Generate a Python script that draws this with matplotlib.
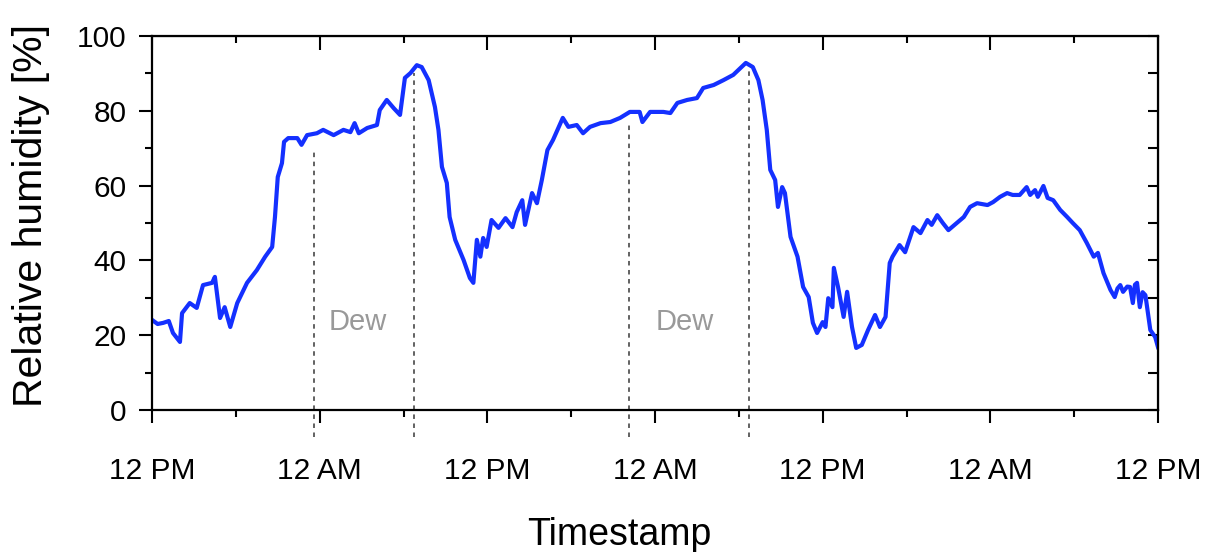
import matplotlib
matplotlib.use("Agg")
import matplotlib.pyplot as plt
from matplotlib.ticker import MultipleLocator
import numpy as np

# hours since the first 12 PM, relative humidity in %
hours = [0.0, 0.4, 0.8, 1.2, 1.5, 2.0, 2.15, 2.7, 3.2, 3.65, 4.3, 4.5, 4.87, 5.2, 5.6,
         6.1, 6.8, 7.5, 8.1, 8.6, 8.8, 9.0, 9.3, 9.45, 9.75, 10.4, 10.7, 11.1,
         11.8, 12.25, 13.0, 13.7, 14.2, 14.5, 14.8, 15.4, 16.1, 16.3, 16.8, 17.3,
         17.75, 18.1, 18.5, 18.95, 19.3, 19.8, 20.25, 20.5, 20.75, 21.1, 21.3,
         21.7, 22.3, 22.75, 23.0, 23.25, 23.5, 23.7, 23.95, 24.3, 24.8, 25.3,
         25.8, 26.1, 26.5, 26.7, 27.2, 27.55, 27.9, 28.3, 28.7, 29.4, 29.8, 30.4,
         30.85, 31.35, 32.1, 32.8, 33.5, 34.2, 34.9, 35.1, 35.65, 36.6, 37.1,
         37.6, 38.3, 39.0, 39.45, 40.2, 40.9, 41.6, 42.1, 42.5, 43.0, 43.4, 43.7,
         44.0, 44.25, 44.6, 44.8, 45.1, 45.3, 45.7, 46.2, 46.6, 47.0, 47.3, 47.6,
         48.0, 48.2, 48.4, 48.7, 48.8, 49.1, 49.5, 49.75, 50.1, 50.4, 50.8, 51.25,
         51.75, 52.1, 52.5, 52.8, 53.0, 53.5, 53.9, 54.5, 55.0, 55.5, 55.8, 56.2,
         56.6, 57.0, 57.6, 58.1, 58.55, 59.05, 59.8, 60.2, 60.7, 61.2, 61.6, 62.1,
         62.6, 62.85, 63.2, 63.4, 63.8, 64.1, 64.5, 65.0, 65.5, 65.9, 66.4, 66.9,
         67.4, 67.7, 68.1, 68.6, 68.9, 69.1, 69.3, 69.5, 69.8, 70.0, 70.2, 70.35,
         70.5, 70.7, 70.9, 71.1, 71.45, 71.8, 72.0]
humidity = [24.1, 23.0, 23.3, 23.8, 20.6, 18.2, 25.9, 28.6, 27.3, 33.4, 34.0, 35.6, 24.6,
            27.5, 22.2, 28.6, 34.0, 37.4, 41.0, 43.6, 51.6, 62.3, 66.0, 71.7, 72.7,
            72.7, 70.9, 73.5, 74.0, 74.9, 73.5, 74.9, 74.3, 76.7, 74.0, 75.4, 76.2,
            80.2, 82.9, 80.7, 78.9, 88.8, 90.1, 92.2, 91.7, 88.2, 81.0, 74.9, 65.0,
            60.7, 51.6, 45.5, 40.1, 35.3, 34.0, 45.5, 41.0, 46.0, 43.6, 50.8, 48.7,
            51.3, 48.9, 52.9, 56.1, 49.5, 58.0, 55.3, 61.5, 69.5, 72.2, 78.1, 75.7,
            76.2, 74.0, 75.7, 76.7, 77.0, 78.1, 79.7, 79.7, 77.0, 79.7, 79.7, 79.4,
            82.1, 82.9, 83.4, 86.1, 86.9, 88.2, 89.6, 91.4, 92.8, 91.7, 88.2, 82.9,
            74.9, 64.2, 61.5, 54.3, 59.6, 58.0, 46.3, 41.0, 32.9, 30.2, 23.3, 20.6,
            23.5, 22.2, 29.9, 27.5, 38.0, 32.9, 24.9, 31.6, 22.2, 16.6, 17.4, 21.4,
            25.4, 22.2, 24.9, 39.3, 41.0, 44.1, 42.2, 48.9, 47.3, 50.8, 49.5, 52.1,
            50.0, 48.1, 50.0, 51.6, 54.3, 55.3, 54.8, 55.6, 57.0, 58.0, 57.5, 57.5,
            59.6, 57.5, 58.8, 57.0, 59.9, 56.7, 56.1, 53.5, 51.6, 50.0, 48.1, 44.7,
            41.0, 42.0, 36.6, 32.1, 30.2, 32.5, 33.4, 31.6, 33.0, 32.9, 28.6, 33.5,
            34.0, 27.5, 31.5, 30.7, 21.4, 19.5, 16.8]

# dew onset / end markers (hour, humidity where the dashed line stops)
dew_hours = [11.6, 18.75, 34.15, 42.7]
dew_tops = [69, 90, 76.5, 91.5]
dew_labels_x = [14.75, 38.15]
dew_label_y = 23.5

tick_hours = [0, 12, 24, 36, 48, 60, 72]
tick_names = ["12 PM", "12 AM", "12 PM", "12 AM", "12 PM", "12 AM", "12 PM"]

plt.rcParams["font.family"] = ["Liberation Sans", "DejaVu Sans"]

fig = plt.figure(figsize=(12.21, 5.52), dpi=100)
ax = fig.add_axes([0.1245, 0.2572, 0.8239, 0.6776])

ax.plot(hours, humidity, color="#1430ff", lw=3.0, solid_joinstyle="round")

for h, top in zip(dew_hours, dew_tops):
    ax.plot([h, h], [-7.2, top], color="#555555", lw=1.3, ls=(0, (2.5, 2.5)),
            clip_on=False, zorder=1)
for x in dew_labels_x:
    ax.text(x, dew_label_y, "Dew", color="#999999", fontsize=21,
            ha="center", va="center")

ax.set_xlim(0, 72)
ax.set_ylim(0, 100)
ax.set_xticks(tick_hours)
ax.set_xticklabels(tick_names, fontsize=21.5)
ax.xaxis.set_minor_locator(MultipleLocator(6))
ax.set_yticks(range(0, 101, 20))
ax.set_yticklabels([str(v) for v in range(0, 101, 20)], fontsize=21.5)
ax.yaxis.set_minor_locator(MultipleLocator(10))

for s in ax.spines.values():
    s.set_linewidth(1.6)
ax.tick_params(which="major", direction="out", length=9.5, width=1.5)
ax.tick_params(which="minor", direction="out", length=5, width=1.5)
ax.tick_params(axis="x", which="major", pad=24)
ax.tick_params(axis="y", which="major", pad=9)

# inward ticks on top and right
top = ax.secondary_xaxis("top")
top.set_xticks(tick_hours)
top.xaxis.set_minor_locator(MultipleLocator(6))
top.tick_params(which="major", direction="in", length=10, width=1.5, labeltop=False)
top.tick_params(which="minor", direction="in", length=5, width=1.5)
right = ax.secondary_yaxis("right")
right.set_yticks(range(0, 101, 20))
right.yaxis.set_minor_locator(MultipleLocator(10))
right.tick_params(which="both", direction="in", length=7, width=1.5, labelright=False)

ax.set_xlabel("Timestamp", fontsize=27)
ax.xaxis.set_label_coords(0.465, -0.286)
ax.set_ylabel("Relative humidity [%]", fontsize=29.5)
ax.yaxis.set_label_coords(-0.101, 0.52)

fig.savefig("out.png", dpi=100)
